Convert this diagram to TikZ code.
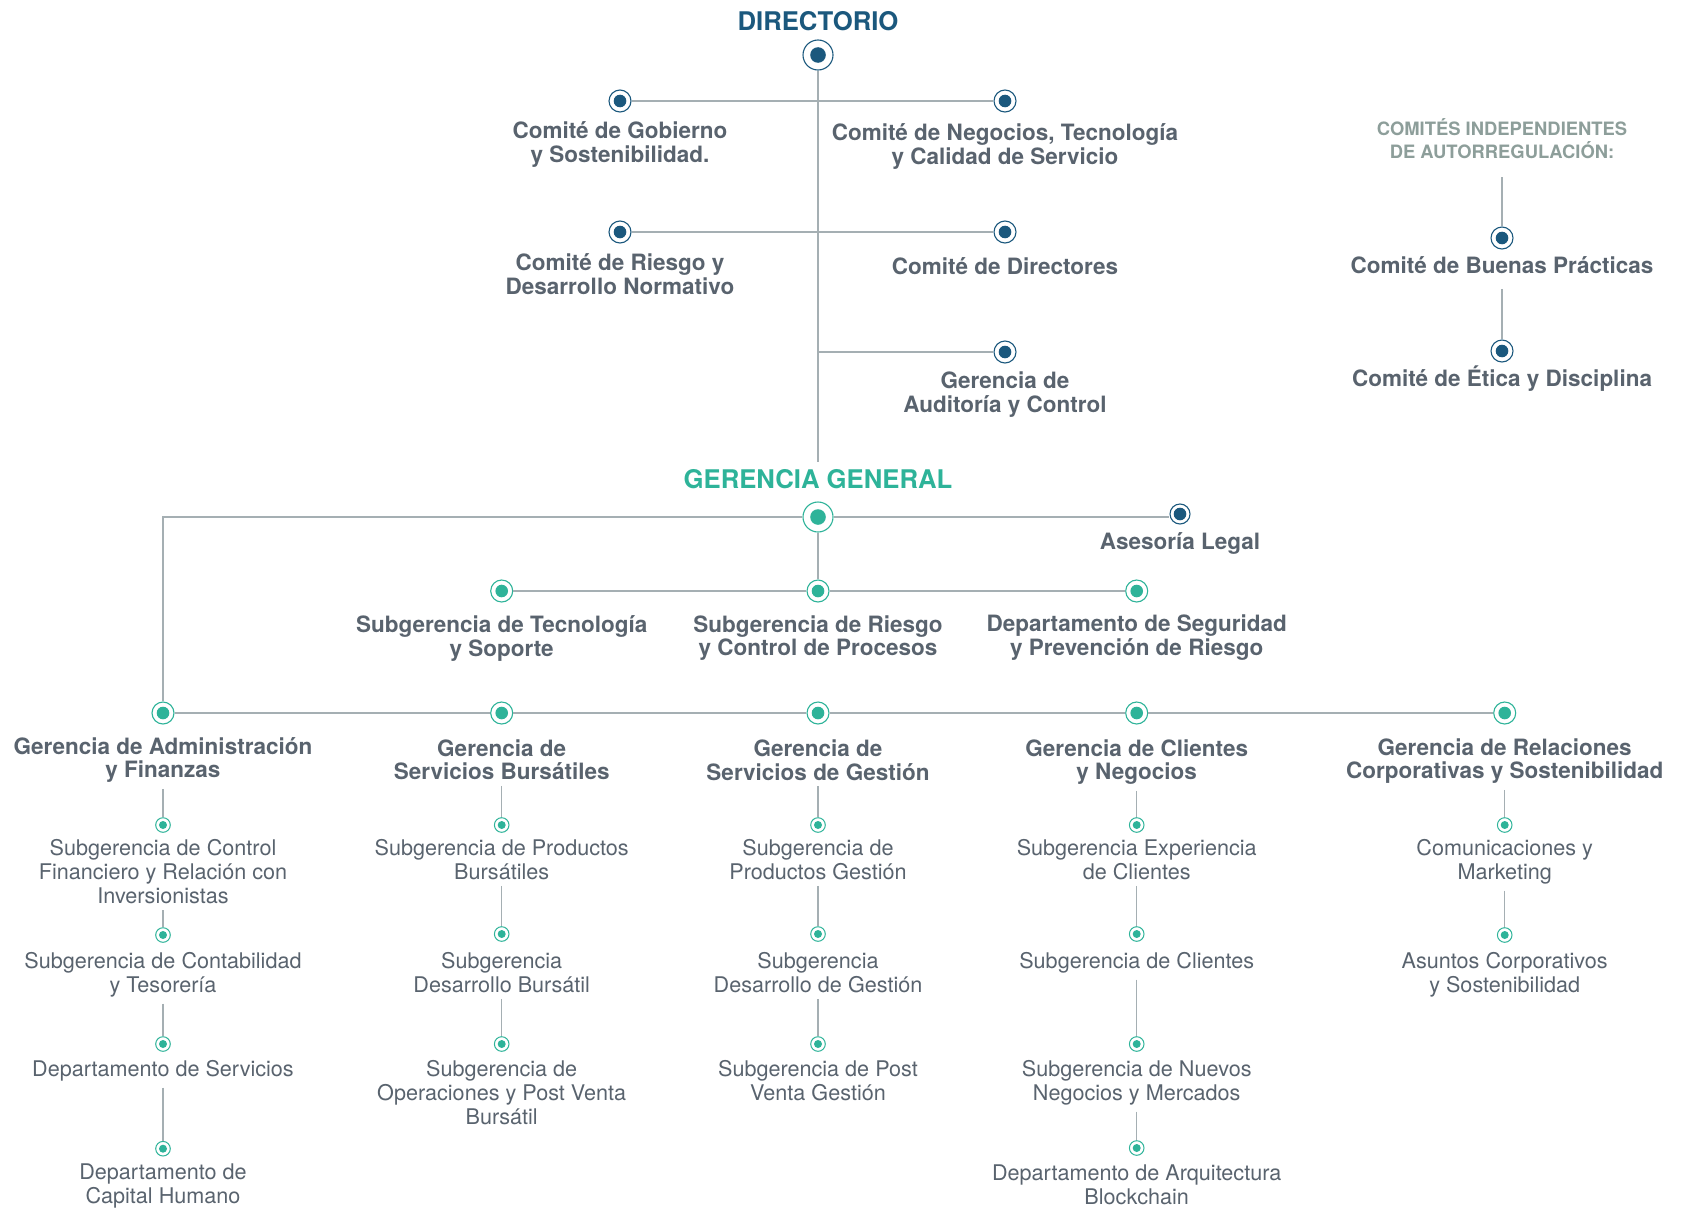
\documentclass[tikz,border=0pt]{standalone}
\usepackage{fontspec}
\setmainfont{TeX Gyre Heros}
\usetikzlibrary{positioning}

\definecolor{dirblue}{RGB}{27,88,125}
\definecolor{ggteal}{RGB}{46,179,153}
\definecolor{txtgray}{RGB}{89,99,110}
\definecolor{linegray}{RGB}{165,175,179}
\definecolor{indgray}{RGB}{141,158,154}

\begin{document}
\begin{tikzpicture}[x=1pt, y=-1pt,
  mk/.style={circle, draw=#1, fill=white, line width=1.1pt, inner sep=0pt},
  bigdot/.style={mk=#1, minimum size=30pt,
                 path picture={\fill[#1] (path picture bounding box.center) circle (7.8pt);}},
  middot/.style={mk=#1, minimum size=22pt,
                 path picture={\fill[#1] (path picture bounding box.center) circle (6.3pt);}},
  smalldot/.style={mk=ggteal, minimum size=14.6pt, line width=1pt,
                 path picture={\fill[ggteal] (path picture bounding box.center) circle (4pt);}},
  head/.style={font=\fontsize{25.7}{28}\selectfont\bfseries, inner sep=0pt},
  lvl/.style={font=\fontsize{22.5}{23.5}\selectfont\bfseries, text=txtgray, align=center, inner sep=0pt},
  unit/.style={font=\fontsize{21.6}{24}\selectfont, text=txtgray, align=center, inner sep=0pt},
  conn/.style={draw=linegray, line width=1.3pt}
]
\useasboundingbox (0,0) rectangle (1683,1207);

% directorio y comites
\node[head, text=dirblue] (dirt) at (818,21) {DIRECTORIO};
\node[bigdot=dirblue] (dir) at (818,55) {};
\coordinate (dirend) at (818,462);

\node[middot=dirblue] (cgo) at (620,101) {};
\node[lvl] (cgot) at (620,144.5) {Comité de Gobierno\\y Sostenibilidad.};
\node[middot=dirblue] (cne) at (1005,101) {};
\node[lvl] (cnet) at (1005,146.5) {Comité de Negocios, Tecnología\\y Calidad de Servicio};
\node[middot=dirblue] (cri) at (620,232) {};
\node[lvl] (crit) at (620,274) {Comité de Riesgo y\\Desarrollo Normativo};
\node[middot=dirblue] (cdi) at (1005,232) {};
\node[lvl] (cdit) at (1005,266) {Comité de Directores};
\node[middot=dirblue] (cau) at (1005,352) {};
\node[lvl] (caut) at (1005,394.5) {Gerencia de\\Auditoría y Control};

\draw[conn] (dir) -- (dirend);
\draw[conn] (cgo) -- (cne);
\draw[conn] (cri) -- (cdi);
\draw[conn] (dir |- cau) -- (cau);

% comites independientes
\node[font=\fontsize{18.4}{23}\selectfont\bfseries, text=indgray, align=center, inner sep=0pt]
  (ind) at (1502,139) {COMITÉS INDEPENDIENTES\\DE AUTORREGULACIÓN:};
\node[middot=dirblue] (cbp) at (1502,238) {};
\node[lvl] (cbpt) at (1502,265) {Comité de Buenas Prácticas};
\node[middot=dirblue] (cet) at (1502,351) {};
\node[lvl] (cett) at (1502,379) {Comité de Ética y Disciplina};
\draw[conn, shorten <=18pt] (ind) -- (cbp);
\draw[conn, shorten <=15pt] (cbpt) -- (cet);

% gerencia general
\node[head, text=ggteal] (ggt) at (818,479) {GERENCIA GENERAL};
\node[bigdot=ggteal] (gg) at (818,517) {};
\node[middot=dirblue, minimum size=20pt] (ase) at (1180,514) {};
\node[lvl] (aset) at (1180,543) {Asesoría Legal};
\draw[conn] (gg) -- (gg -| ase.west);

\node[middot=ggteal] (stec) at (501.7,591) {};
\node[lvl] (stect) at (501.7,638.5) {Subgerencia de Tecnología\\y Soporte};
\node[middot=ggteal] (sries) at (818,591) {};
\node[lvl] (sriest) at (818,638) {Subgerencia de Riesgo\\y Control de Procesos};
\node[middot=ggteal] (dseg) at (1136.7,591) {};
\node[lvl] (dsegt) at (1136.7,637.5) {Departamento de Seguridad\\y Prevención de Riesgo};
\draw[conn] (gg) -- (sries);
\draw[conn] (stec) -- (sries);
\draw[conn] (sries) -- (dseg);

% gerencias
\node[middot=ggteal] (adm) at (163,713) {};
\node[lvl] (admt) at (163,760) {Gerencia de Administración\\y Finanzas};
\node[middot=ggteal] (bur) at (501.7,713) {};
\node[lvl] (burt) at (501.7,759.5) {Gerencia de\\Servicios Bursátiles};
\node[middot=ggteal] (ges) at (818,713) {};
\node[lvl] (gest) at (818,760) {Gerencia de\\Servicios de Gestión};
\node[middot=ggteal] (cli) at (1136.7,713) {};
\node[lvl] (clit) at (1136.7,762) {Gerencia de Clientes\\y Negocios};
\node[middot=ggteal] (rel) at (1504.7,713) {};
\node[lvl] (relt) at (1504.7,761) {Gerencia de Relaciones\\Corporativas y Sostenibilidad};
\draw[conn] (gg) -| (adm);
\foreach \a/\b in {adm/bur, bur/ges, ges/cli, cli/rel}
  \draw[conn] (\a) -- (\b);

% administracion y finanzas
\node[smalldot] (adm1) at (163,825) {};
\node[unit] (adm1t) at (163,872) {Subgerencia de Control\\Financiero y Relación con\\Inversionistas};
\node[smalldot] (adm2) at (163,935) {};
\node[unit] (adm2t) at (163,975) {Subgerencia de Contabilidad\\y Tesorería};
\node[smalldot] (adm3) at (163,1044) {};
\node[unit] (adm3t) at (163,1071) {Departamento de Servicios};
\node[smalldot] (adm4) at (163,1148.7) {};
\node[unit] (adm4t) at (163,1186) {Departamento de\\Capital Humano};

% servicios bursatiles
\node[smalldot] (bur1) at (501.7,825) {};
\node[unit] (bur1t) at (501.7,859.5) {Subgerencia de Productos\\Bursátiles};
\node[smalldot] (bur2) at (501.7,934) {};
\node[unit] (bur2t) at (501.7,972.5) {Subgerencia\\Desarrollo Bursátil};
\node[smalldot] (bur3) at (501.7,1044) {};
\node[unit] (bur3t) at (501.7,1093) {Subgerencia de\\Operaciones y Post Venta\\Bursátil};

% servicios de gestion
\node[smalldot] (ges1) at (818,825) {};
\node[unit] (ges1t) at (818,859.5) {Subgerencia de\\Productos Gestión};
\node[smalldot] (ges2) at (818,934) {};
\node[unit] (ges2t) at (818,972.5) {Subgerencia\\Desarrollo de Gestión};
\node[smalldot] (ges3) at (818,1044) {};
\node[unit] (ges3t) at (818,1081) {Subgerencia de Post\\Venta Gestión};

% clientes y negocios
\node[smalldot] (cli1) at (1136.7,825) {};
\node[unit] (cli1t) at (1136.7,859.5) {Subgerencia Experiencia\\de Clientes};
\node[smalldot] (cli2) at (1136.7,934) {};
\node[unit] (cli2t) at (1136.7,963) {Subgerencia de Clientes};
\node[smalldot] (cli3) at (1136.7,1044) {};
\node[unit] (cli3t) at (1136.7,1083) {Subgerencia de Nuevos\\Negocios y Mercados};
\node[smalldot] (cli4) at (1136.7,1148) {};
\node[unit] (cli4t) at (1136.7,1184.5) {Departamento de Arquitectura\\Blockchain};

% relaciones corporativas
\node[smalldot] (rel1) at (1504.7,825) {};
\node[unit] (rel1t) at (1504.7,862) {Comunicaciones y\\Marketing};
\node[smalldot] (rel2) at (1504.7,935) {};
\node[unit] (rel2t) at (1504.7,975) {Asuntos Corporativos\\y Sostenibilidad};

\foreach \t/\m in {admt/adm1, adm1t/adm2, adm2t/adm3, adm3t/adm4,
                   burt/bur1, bur1t/bur2, bur2t/bur3,
                   gest/ges1, ges1t/ges2, ges2t/ges3,
                   clit/cli1, cli1t/cli2, cli2t/cli3, cli3t/cli4,
                   relt/rel1, rel1t/rel2}
  \draw[conn, shorten <=6pt] (\t) -- (\m);
\end{tikzpicture}
\end{document}
